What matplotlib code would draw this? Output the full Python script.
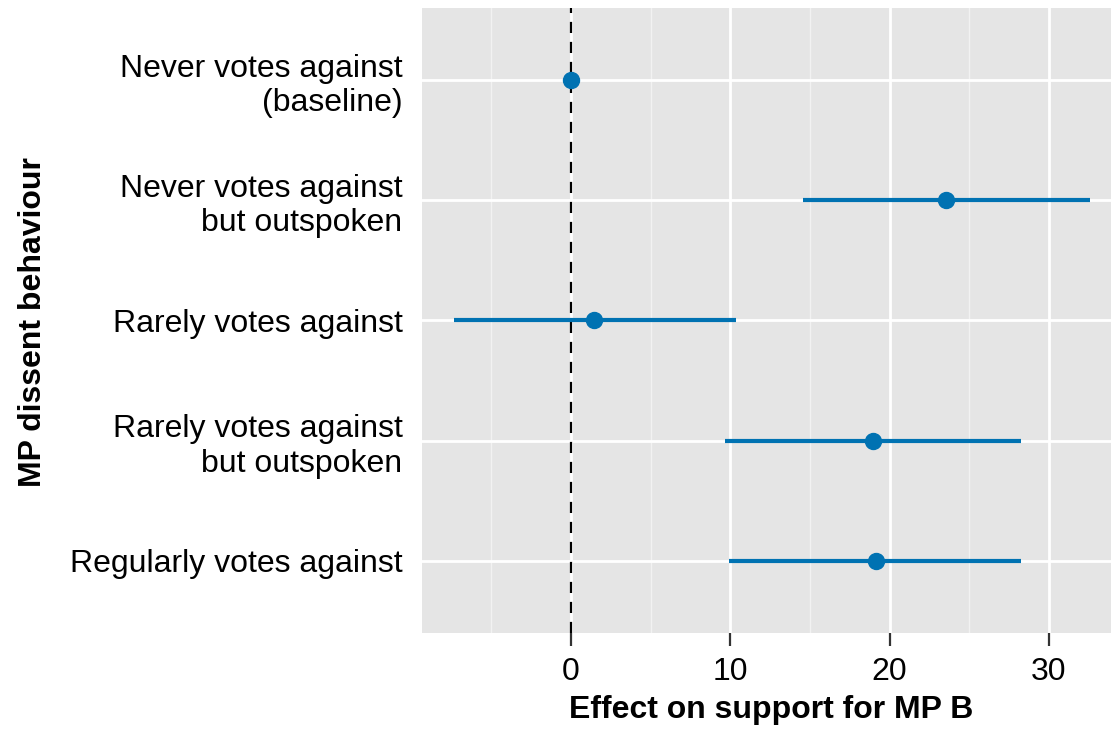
import numpy as np
import matplotlib
matplotlib.use("Agg")
from matplotlib import pyplot as plt

# categories, top to bottom
categories = ["Never votes against\n(baseline)",
              "Never votes against\nbut outspoken",
              "Rarely votes against",
              "Rarely votes against\nbut outspoken",
              "Regularly votes against"]
estimate = [0.0, 23.55, 1.45, 18.95, 19.15]
ci_low = [np.nan, 14.55, -7.35, 9.7, 9.95]
ci_high = [np.nan, 32.6, 10.35, 28.25, 28.25]
xticks = [0, 10, 20, 30]

plt.rcParams['font.family'] = ['Liberation Sans', 'DejaVu Sans']

fig = plt.figure(figsize=(11.11, 7.30), dpi=100)
ax = fig.add_axes([422/1111, 1 - 633/730, 1 - 422/1111, 625/730])

ypos = np.arange(len(categories))[::-1] + 1
col = '#0072B2'

ax.set_facecolor('#E5E5E5')
for s in ax.spines.values():
    s.set_visible(False)

ax.set_xlim(-9.35, 33.9)
ax.set_ylim(0.4, 5.6)
ax.set_xticks(xticks)
ax.set_xticks([-5, 5, 15, 25], minor=True)
ax.set_yticks(ypos)
ax.set_yticklabels(categories, fontsize=23, linespacing=1.2, ha='right')
ax.set_xticklabels([str(v) for v in xticks], fontsize=23)
ax.grid(True, which='major', color='white', linewidth=2.0)
ax.grid(True, which='minor', axis='x', color='#F2F2F2', linewidth=1.0)
ax.set_axisbelow(True)
ax.tick_params(axis='x', which='major', length=9, width=1.6, color='#333333', pad=8)
ax.tick_params(axis='y', which='major', length=0, pad=14)
ax.tick_params(axis='x', which='minor', length=0)

ax.axvline(0, color='black', linestyle=(0, (5, 4)), linewidth=1.6, zorder=2)

ax.hlines(ypos, ci_low, ci_high, color=col, linewidth=3.0, zorder=3)
ax.plot(estimate, ypos, 'o', color=col, markersize=11.5, zorder=4)

ax.set_xlabel("Effect on support for MP B", fontsize=23, fontweight='bold')
ax.set_ylabel("MP dissent behaviour", fontsize=23, fontweight='bold')
ax.xaxis.set_label_coords((771 - 422) / 689, (633 - 710) / 625)
ax.yaxis.set_label_coords((33 - 422) / 689, (633 - 322) / 625)
ax.xaxis.label.set_va('center')
ax.yaxis.label.set_va('center')

fig.savefig("out.png", dpi=100)
